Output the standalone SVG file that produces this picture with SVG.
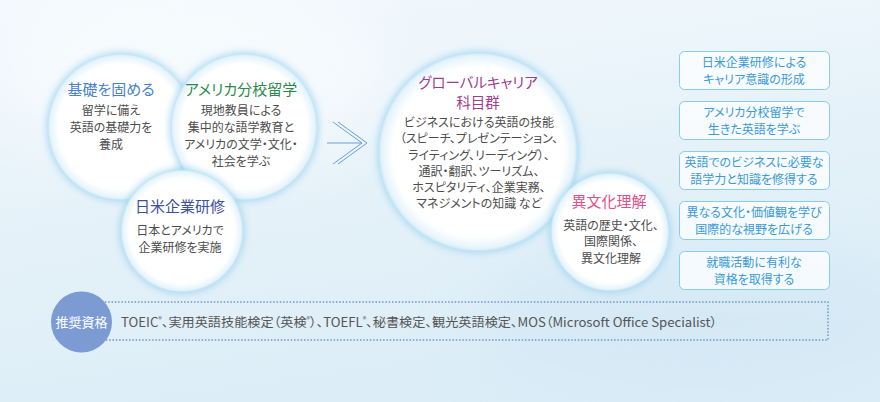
<svg xmlns="http://www.w3.org/2000/svg" width="880" height="402" viewBox="0 0 880 402">
<defs>
  <linearGradient id="bg" x1="0" y1="0" x2="0.3" y2="1">
    <stop offset="0" stop-color="#f3f9fd"/>
    <stop offset="0.5" stop-color="#e6f2f9"/>
    <stop offset="1" stop-color="#dcedf7"/>
  </linearGradient>
  <radialGradient id="cg" cx="0.5" cy="0.5" r="0.5">
    <stop offset="0" stop-color="#ffffff"/>
    <stop offset="0.86" stop-color="#ffffff"/>
    <stop offset="0.97" stop-color="#e6f4fb"/>
    <stop offset="1" stop-color="#cfeaf8"/>
  </radialGradient>
  <filter id="blur" x="-20%" y="-20%" width="140%" height="140%">
    <feGaussianBlur stdDeviation="3.5"/>
  </filter>
  <filter id="soft" x="-50%" y="-50%" width="200%" height="200%">
    <feGaussianBlur stdDeviation="30"/>
  </filter>
  <style>
    .glow{fill:#94d0ef;opacity:0.7;filter:url(#blur)}
    .disc{fill:url(#cg);stroke:#c4e5f6;stroke-width:0.8}
    .t{font-family:"Noto Sans CJK JP","Noto Sans",sans-serif;text-anchor:middle;font-feature-settings:"palt"}
    .title{font-size:15px}
    .body{font-size:12px;fill:#4d4d4d}
    .box rect{fill:#fafdff;fill-opacity:0.85;stroke:#88cbed;stroke-width:1}
    .box text{font-family:"Noto Sans CJK JP","Noto Sans",sans-serif;text-anchor:middle;font-size:12px;fill:#3a9ad6;font-feature-settings:"palt"}
    .sup{font-size:7px;baseline-shift:super}
  </style>
</defs>

<rect x="0" y="0" width="880" height="402" fill="url(#bg)"/>
<ellipse cx="200" cy="80" rx="200" ry="90" fill="#ffffff" opacity="0.45" filter="url(#soft)"/>
<ellipse cx="700" cy="320" rx="220" ry="80" fill="#cfe6f4" opacity="0.5" filter="url(#soft)"/>

<g id="connectors">
  <g fill="none" stroke="#6a9fd8" stroke-width="1">
    <line x1="327" y1="143" x2="362" y2="143"/>
    <polyline points="333,122 362,143 333,164"/>
    <polyline points="338,122 367,143 338,164"/>
  </g>
</g>

<g id="node-kiso">
  <circle class="glow" cx="121" cy="127" r="75"/>
  <circle class="disc" cx="121" cy="127" r="73"/>
  <text class="t title" x="111" y="95" fill="#4a82c8">基礎を固める</text>
  <text class="t body" x="111" y="115">留学に備え</text>
  <text class="t body" x="111" y="132">英語の基礎力を</text>
  <text class="t body" x="111" y="149">養成</text>
</g>

<g id="node-america">
  <circle class="glow" cx="244" cy="127" r="75"/>
  <circle class="disc" cx="244" cy="127" r="73"/>
  <text class="t title" x="241" y="95" fill="#2a8a4a">アメリカ分校留学</text>
  <text class="t body" x="241" y="115">現地教員による</text>
  <text class="t body" x="241" y="132">集中的な語学教育と</text>
  <text class="t body" x="241" y="149">アメリカの文学・文化・</text>
  <text class="t body" x="241" y="166">社会を学ぶ</text>
</g>

<g id="node-kigyo">
  <circle class="glow" cx="182" cy="231" r="63"/>
  <circle class="disc" cx="182" cy="231" r="61"/>
  <text class="t title" x="180" y="212" fill="#3d4fa0">日米企業研修</text>
  <text class="t body" x="180" y="235">日本とアメリカで</text>
  <text class="t body" x="180" y="252">企業研修を実施</text>
</g>

<g id="node-global">
  <circle class="glow" cx="478" cy="152" r="101"/>
  <circle class="disc" cx="478" cy="152" r="99"/>
  <text class="t" x="478" y="88" font-size="14.5" fill="#a03c8c">グローバルキャリア</text>
  <text class="t" x="478" y="108" font-size="14.5" fill="#a03c8c">科目群</text>
  <text class="t body" x="479" y="127">ビジネスにおける英語の技能</text>
  <text class="t body" x="479" y="143">（スピーチ、プレゼンテーション、</text>
  <text class="t body" x="479" y="160">ライティング、リーディング）、</text>
  <text class="t body" x="479" y="176">通訳・翻訳、ツーリズム、</text>
  <text class="t body" x="479" y="192">ホスピタリティ、企業実務、</text>
  <text class="t body" x="479" y="208">マネジメントの知識 など</text>
</g>

<g id="node-ibunka">
  <circle class="glow" cx="610" cy="232" r="61"/>
  <circle class="disc" cx="610" cy="232" r="59"/>
  <text class="t title" x="609" y="207" fill="#e0508a">異文化理解</text>
  <text class="t body" x="611" y="230">英語の歴史・文化、</text>
  <text class="t body" x="611" y="246">国際関係、</text>
  <text class="t body" x="611" y="263">異文化理解</text>
</g>

<g id="box1" class="box">
  <rect x="679.5" y="51.5" width="150" height="38" rx="5"/>
  <text x="754" y="67">日米企業研修による</text>
  <text x="754" y="84">キャリア意識の形成</text>
</g>
<g id="box2" class="box">
  <rect x="679.5" y="101.5" width="150" height="38" rx="5"/>
  <text x="754" y="117">アメリカ分校留学で</text>
  <text x="754" y="134">生きた英語を学ぶ</text>
</g>
<g id="box3" class="box">
  <rect x="679.5" y="151.5" width="150" height="38" rx="5"/>
  <text x="754" y="167">英語でのビジネスに必要な</text>
  <text x="754" y="184">語学力と知識を修得する</text>
</g>
<g id="box4" class="box">
  <rect x="679.5" y="201.5" width="150" height="38" rx="5"/>
  <text x="754" y="217">異なる文化・価値観を学び</text>
  <text x="754" y="234">国際的な視野を広げる</text>
</g>
<g id="box5" class="box">
  <rect x="679.5" y="251.5" width="150" height="38" rx="5"/>
  <text x="754" y="267">就職活動に有利な</text>
  <text x="754" y="284">資格を取得する</text>
</g>

<g id="recommend">
  <rect x="95" y="302" width="733" height="38" fill="none" stroke="#6f95cc" stroke-width="1.5" stroke-dasharray="1.5 1.8"/>
  <circle cx="81.5" cy="322" r="30.5" fill="#7b9bd2"/>
  <text x="81.5" y="327" font-family="&quot;Noto Sans CJK JP&quot;,sans-serif" font-size="13" fill="#ffffff" text-anchor="middle">推奨資格</text>
  <text x="121" y="327" font-family="&quot;Noto Sans CJK JP&quot;,sans-serif" font-size="12.5" fill="#555555" style="font-feature-settings:'palt'" textLength="596" lengthAdjust="spacingAndGlyphs">TOEIC<tspan class="sup">®</tspan>、実用英語技能検定（英検<tspan class="sup">®</tspan>）、TOEFL<tspan class="sup">®</tspan>、秘書検定、観光英語検定、MOS（Microsoft Office Specialist）</text>
</g>
</svg>
